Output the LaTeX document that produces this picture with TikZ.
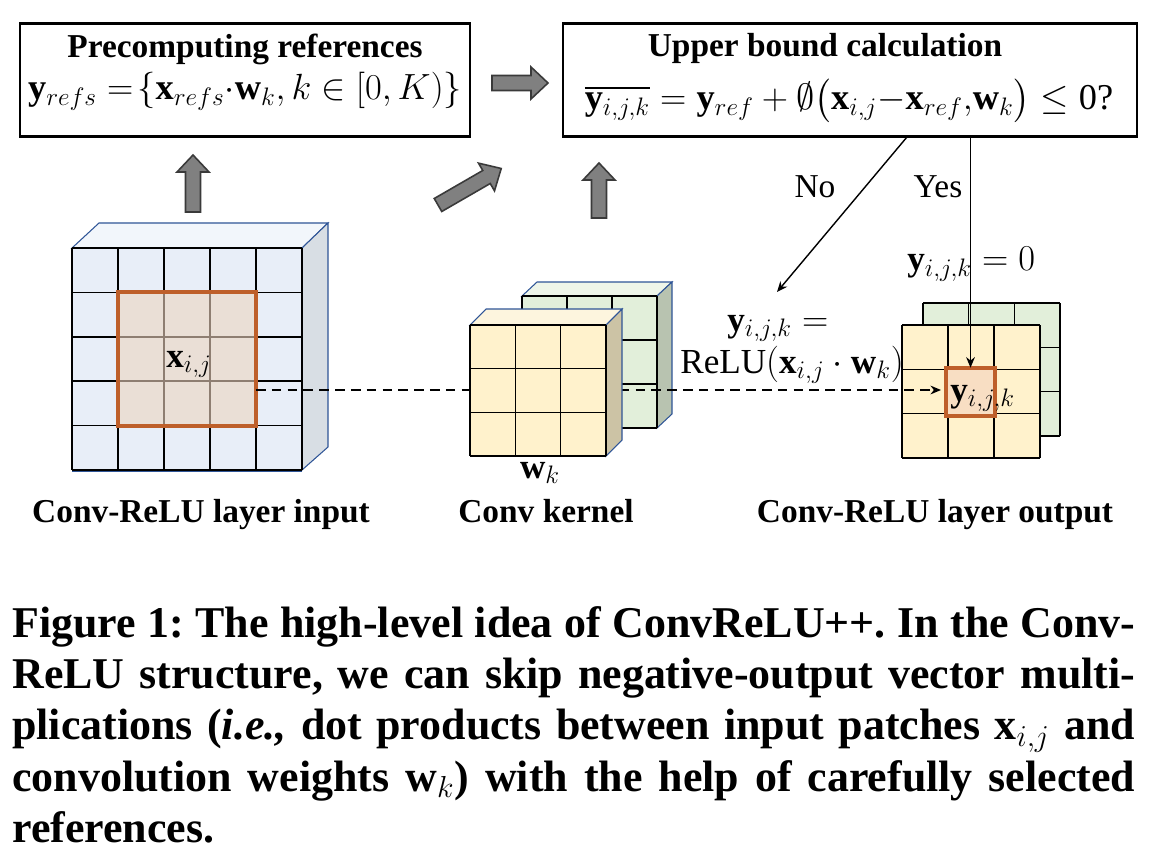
\documentclass[tikz,border=0pt]{standalone}
\usepackage{amsmath,amssymb}
\usepackage{fontspec}
\setmainfont{Liberation Serif}
\usetikzlibrary{arrows.meta}
\definecolor{inface}{HTML}{E8EEF8}
\definecolor{intop}{HTML}{F2F6FB}
\definecolor{inside}{HTML}{D8DEE4}
\definecolor{cubeedge}{HTML}{2F5597}
\definecolor{patchfill}{HTML}{EADFD6}
\definecolor{patchgrid}{HTML}{8E7E72}
\definecolor{orng}{HTML}{BE5F2A}
\definecolor{kyel}{HTML}{FFF2CC}
\definecolor{kyeltop}{HTML}{FDF5DE}
\definecolor{kyelside}{HTML}{CCC3A5}
\definecolor{kgrn}{HTML}{E2EFDA}
\definecolor{kgrntop}{HTML}{EEF5E9}
\definecolor{kgrnside}{HTML}{B8C3B0}
\definecolor{outpatch}{HTML}{F8DEC3}
\definecolor{arrfill}{HTML}{808080}
\definecolor{arredge}{HTML}{3A3A3A}
\tikzset{
  x=0.02cm, y=-0.02cm,
  lbl/.style={font=\fontsize{19}{23}\selectfont, inner sep=0pt},
  mlbl/.style={font=\fontsize{20}{24}\selectfont, inner sep=0pt},
  flbl/.style={font=\fontsize{20.7}{24}\selectfont, inner sep=0pt},
  ttl/.style={font=\fontsize{19}{23}\selectfont\bfseries, inner sep=0pt},
  boxnode/.style={draw=black, line width=1.2pt, minimum width=#1, minimum height=2.26cm, inner sep=0pt},
  edgeline/.style={draw=cubeedge, line width=0.6pt},
  gridline/.style={draw=black, line width=0.9pt},
  pgrid/.style={draw=patchgrid, line width=0.8pt},
  obord/.style={draw=orng, line width=2.3pt},
  conn/.style={draw=black, line width=0.8pt},
  dashconn/.style={draw=black, line width=0.8pt, dash pattern=on 5.5pt off 3.5pt},
  tip/.style={-{Stealth[length=6pt,width=5pt]}},
  pics/blockarr/.style={code={
    \draw[fill=arrfill, draw=arredge, line width=0.9pt, line join=miter]
      (0,-7.5) -- (#1-17,-7.5) -- (#1-17,-16) -- (#1,0) -- (#1-17,16) -- (#1-17,7.5) -- (0,7.5) -- cycle;}}
}
\begin{document}
\begin{tikzpicture}
\useasboundingbox (0,0) rectangle (1149,858);
\fill[white] (0,0) rectangle (1149,858);

% ---------- top boxes ----------
\node[boxnode=9cm] (box1) at (245,80) {};
\node[boxnode=11.48cm] (box2) at (850,80) {};
\node[ttl, anchor=base] (t1) at (245,58) {Precomputing references};
\node[flbl, anchor=base] (f1) at (245,100) {$\mathbf{y}_{refs} ={}\!\{\mathbf{x}_{refs}{\cdot}\mathbf{w}_k, k\in[0,K)\}$};
\node[ttl, anchor=base] (t2) at (825,57) {Upper bound calculation};
\node[flbl, anchor=base] (f2) at (849,110) {$\overline{\mathbf{y}_{i,j,k}} = \mathbf{y}_{ref} + \emptyset\bigl(\mathbf{x}_{i,j}{-}\mathbf{x}_{ref}{,}\mathbf{w}_k\bigr) \leq \text{0?}$};

% ---------- block arrows ----------
\pic at (492,83) {blockarr=56};
\pic[rotate=90] at (193,212) {blockarr=57};
\pic[rotate=90] at (599,218) {blockarr=55};
\pic[rotate=30] at (438,205) {blockarr=73};

% ---------- input cube ----------
\fill[inface] (72,248) rectangle (302,470);
\filldraw[edgeline, fill=intop] (72,248) -- (99,223) -- (328,223) -- (302,248) -- cycle;
\filldraw[edgeline, fill=inside] (302,248) -- (328,223) -- (328,447) -- (302,470) -- cycle;
\draw[edgeline] (72,471) -- (302,471);
\foreach \i in {0,...,5} {
  \draw[gridline] (72+46*\i,248) -- (72+46*\i,470);
  \draw[gridline] (72,248+44.4*\i) -- (302,248+44.4*\i);
}
\node[fill=patchfill, minimum width=2.76cm, minimum height=2.664cm, inner sep=0pt] (patch) at (187,359) {};
\draw[pgrid] (164,292.4) -- (164,425.6) (210,292.4) -- (210,425.6)
             (118,336.8) -- (256,336.8) (118,381.2) -- (256,381.2);
\draw[obord] (patch.north west) rectangle (patch.south east);
\node[mlbl, anchor=base west] (xij) at (166,367) {$\mathbf{x}_{i,j}$};

% ---------- back kernel (green) ----------
\fill[kgrn] (522,296) rectangle (657,428);
\filldraw[edgeline, fill=kgrntop] (522,296) -- (537,282) -- (672,282) -- (657,296) -- cycle;
\filldraw[edgeline, fill=kgrnside] (657,296) -- (672,282) -- (672,414) -- (657,428) -- cycle;
\foreach \i in {0,...,3} {
  \draw[gridline] (522+45*\i,296) -- (522+45*\i,428);
  \draw[gridline] (522,296+44*\i) -- (657,296+44*\i);
}

% ---------- output planes ----------
\fill[kgrn] (923,303) rectangle (1060,436);
\foreach \i in {0,...,3} {
  \draw[gridline] (923+45.67*\i,303) -- (923+45.67*\i,436);
  \draw[gridline] (923,303+44.33*\i) -- (1060,303+44.33*\i);
}
\fill[kyel] (902,325) rectangle (1040,458);
\foreach \i in {0,...,3} {
  \draw[gridline] (902+46*\i,325) -- (902+46*\i,458);
  \draw[gridline] (902,325+44.33*\i) -- (1040,325+44.33*\i);
}
\node[fill=outpatch, minimum width=0.98cm, minimum height=0.96cm, inner sep=0pt] (ypatch) at (970.5,392) {};
\draw[obord] (ypatch.north west) rectangle (ypatch.south east);
\node[mlbl, anchor=base west] (yijk) at (950,401) {$\mathbf{y}_{i,j,k}$};

% ---------- dashed connector ----------
\coordinate (dstart) at (256,390);
\coordinate (dend) at (941,390);
\draw[dashconn, tip] (dstart) -- (dend);

% ---------- front kernel (yellow) ----------
\fill[kyel] (470,325) rectangle (606,456);
\filldraw[edgeline, fill=kyeltop] (470,325) -- (486,309) -- (622,309) -- (606,325) -- cycle;
\filldraw[edgeline, fill=kyelside] (606,325) -- (622,309) -- (622,440) -- (606,456) -- cycle;
\foreach \i in {0,...,3} {
  \draw[gridline] (470+45.33*\i,325) -- (470+45.33*\i,456);
  \draw[gridline] (470,325+43.67*\i) -- (606,325+43.67*\i);
}
\node[mlbl, anchor=base] (wk) at (540,478) {$\mathbf{w}_k$};

% ---------- decision connectors ----------
\coordinate (nos) at (907,137);
\coordinate (noend) at (777,292);
\draw[conn, tip] (nos) -- (noend);
\draw[conn, tip] (box2.south -| ypatch.north) -- (ypatch.north);
\node[lbl, anchor=base] (no) at (815,198) {No};
\node[lbl, anchor=base] (yes) at (938,198) {Yes};

% ---------- equation labels ----------
\node[mlbl, anchor=base west] (yzero) at (907,271) {$\mathbf{y}_{i,j,k} = 0$};
\node[mlbl, anchor=base west] (yeq) at (727,331) {$\mathbf{y}_{i,j,k} =$};
\node[mlbl, anchor=base west] (relu) at (680,373) {ReLU$(\mathbf{x}_{i,j}\cdot \mathbf{w}_k)$};

% ---------- captions ----------
\node[ttl, anchor=base] (cin) at (201,522) {Conv-ReLU layer input};
\node[ttl, anchor=base] (ck) at (546,522) {Conv kernel};
\node[ttl, anchor=base] (cout) at (935,522) {Conv-ReLU layer output};

% ---------- figure caption ----------
\node[anchor=base west, inner sep=0pt] (cap) at (12,637) {\parbox[t]{22.46cm}{\fontsize{25}{29.3}\selectfont\bfseries\frenchspacing\hyphenpenalty=10000\tolerance=10000\emergencystretch=20pt
Figure 1: The high-level idea of ConvReLU++. In the Conv-\linebreak ReLU structure, we can skip negative-output vector multi-\linebreak plications (\textit{i.e.,} dot products between input patches x$_{i,j}$ and\linebreak convolution weights w$_{k}$) with the help of carefully selected\linebreak references.}};
\end{tikzpicture}
\end{document}
